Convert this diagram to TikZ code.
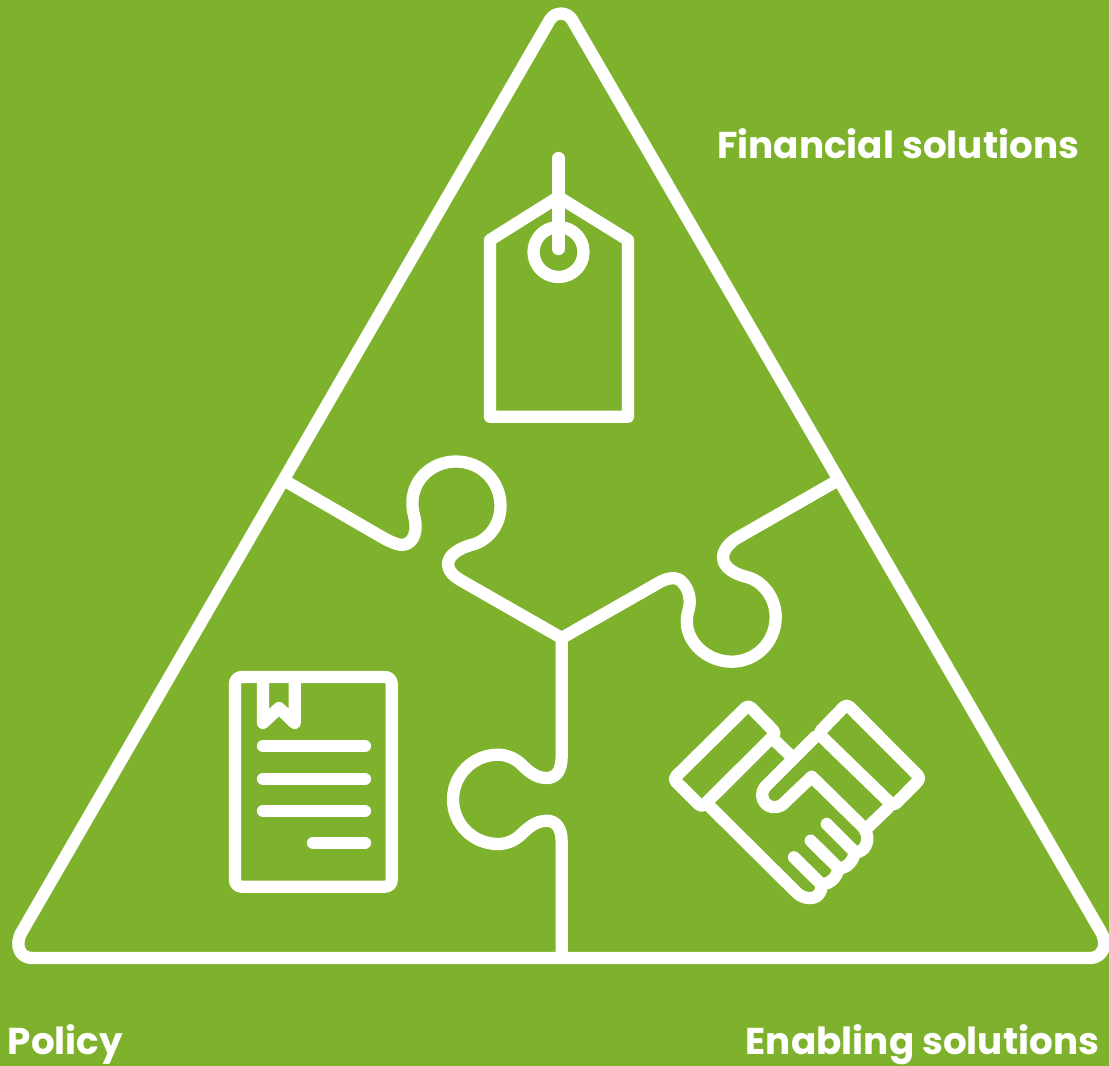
\documentclass[tikz,border=0pt]{standalone}
\usepackage{fontspec}
\setmainfont{Poppins}[BoldFont={* Bold}]
\definecolor{bggreen}{HTML}{7FB22C}
\tikzset{
  outl/.style={draw=white,line width=9.2pt,line join=round,line cap=butt},
  icon/.style={draw=white,line width=9.2pt,line join=round,line cap=round},
  lbl/.style={text=white,font=\bfseries\fontsize{28}{32}\selectfont,inner sep=0pt,anchor=base west}
}
\begin{document}
\begin{tikzpicture}[x=0.75pt,y=-0.75pt]
\useasboundingbox (0,0) rectangle (1109,1066);
\fill[bggreen] (0,0) rectangle (1109,1066);
% triangle
\draw[outl] (549.8,20) .. controls (554.8,11.4) and (567.2,11.4) .. (572.2,20) -- (1101,932) .. controls (1108.5,945.5) and (1102,958) .. (1090,958) -- (32,958) .. controls (20,958) and (14,945.5) .. (21.7,932) -- cycle;
% left puzzle edge
\draw[outl] (283.5,480) -- (380,536) .. controls (392,543) and (400,546) .. (405,544.5) .. controls (414,542) and (417,531) .. (415,520) .. controls (413,511) and (412,508) .. (412.5,500) .. controls (414,478) and (433,461.5) .. (456,461.5) .. controls (481,461.5) and (500.5,481) .. (500.5,506) .. controls (500.5,525) and (488,541) .. (471,545) .. controls (460,548) and (447.5,555) .. (448,565) .. controls (448.5,572) and (455,577) .. (462,581) -- (561.7,638);
% right puzzle edge
\draw[outl] (561.7,638) -- (660,582) .. controls (667,578) and (677,576) .. (682,582) .. controls (689,589) and (691,600) .. (689,608) .. controls (687,615) and (686.5,620) .. (687,625) .. controls (689,645) and (709,661.7) .. (731.7,661.7) .. controls (756,661.7) and (775.7,642) .. (775.7,617) .. controls (775.7,598) and (763,581) .. (746.7,577) .. controls (735,574) and (723,568) .. (723,557) .. controls (723,550) and (730,542) .. (738,537.5) -- (836.7,481);
% bottom puzzle edge
\draw[outl] (561.7,638) -- (561.7,756) .. controls (561.7,771) and (556,778) .. (546.7,778) .. controls (535,778) and (527,770) .. (520,763) .. controls (514,758) and (506,754.7) .. (498,754.7) .. controls (473,754.7) and (453,775) .. (453,799.5) .. controls (453,824) and (473,844) .. (498,844) .. controls (506,844) and (514,841) .. (520,835.5) .. controls (527,829) and (535,820.7) .. (546.7,820.7) .. controls (556,820.7) and (561.7,828) .. (561.7,842) -- (561.7,958);
% price tag
\draw[icon] (490,240) -- (558.5,197) -- (628,240) -- (628,416.7) -- (490,416.7) -- cycle;
\draw[icon] (558.5,252) circle[radius=25];
\draw[icon] (558.5,158) -- (558.5,249);
% document
\draw[icon,rounded corners=5pt] (235,677) rectangle (391.7,886.7);
\draw[icon] (263,681) -- (263,723) -- (279,708) -- (294.7,723) -- (294.7,681);
\draw[icon] (263,746) -- (365,746);
\draw[icon] (263,779) -- (365,779);
\draw[icon] (263,811) -- (365,811);
\draw[icon] (313,842.7) -- (365,842.7);
% handshake
\draw[icon,rounded corners=3pt] (748.3,705) -- (776,733.3) -- (701.7,807.3) -- (673.3,779) -- cycle;
\draw[icon,rounded corners=3pt] (846.7,704) -- (920.7,778.3) -- (893.3,806) -- (818.3,733.3) -- cycle;
\draw[icon] (776,741.7) -- (791.7,756.7);
\draw[icon] (815,737) -- (765,787) .. controls (757,797) and (767,813) .. (782,805) -- (811.7,776.7) -- (862,826) .. controls (870,834) and (868,846) .. (862,850) .. controls (860,852) and (857,852.5) .. (854.7,852) -- (826.7,824);
\draw[icon] (888,808) -- (867,828);
\draw[icon] (854.7,852) .. controls (854,860) and (847,869) .. (838.3,868) -- (810.7,840.7);
\draw[icon] (838.3,868) .. controls (838,876) and (830,885) .. (821,884) -- (794,857.3);
\draw[icon] (710,806.7) -- (796,892) .. controls (803,899) and (813,900) .. (818,895) .. controls (821,892) and (822,888) .. (821,884);
% labels
\node[lbl] (fin) at (717,159) {Financial solutions};
\node[lbl] (pol) at (7.5,1054.5) {Policy};
\node[lbl] (ena) at (745.5,1054.5) {Enabling solutions};
\end{tikzpicture}
\end{document}
